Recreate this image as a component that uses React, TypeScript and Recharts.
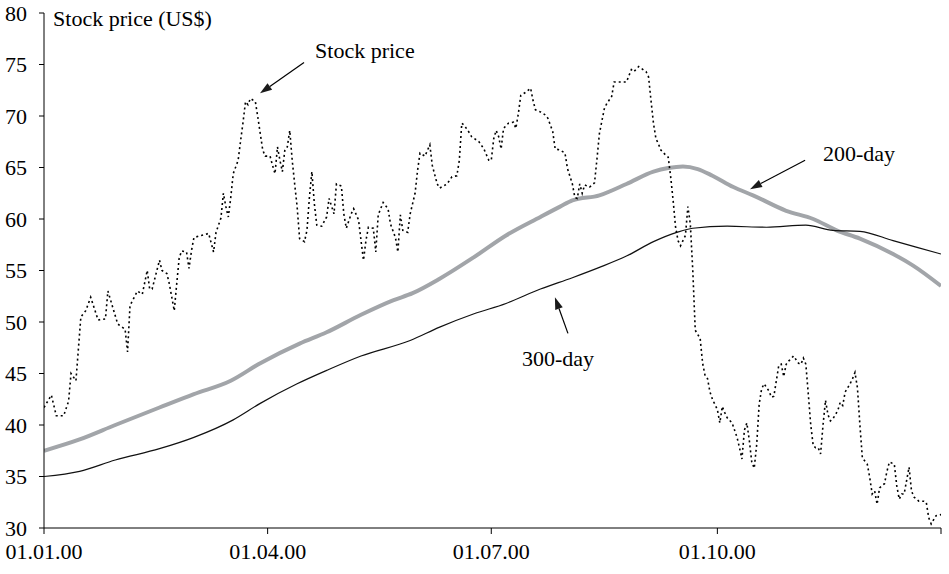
import { LineChart, Line, XAxis, YAxis, ReferenceLine, ReferenceDot } from "recharts";

const FONT = '"Liberation Serif", "Times New Roman", Times, serif';

// days counted from 01.01.00
const xTicks = [0, 91, 182, 274, 365];
const xTickLabels = ["01.01.00", "01.04.00", "01.07.00", "01.10.00", ""];
const yTicks = [30, 35, 40, 45, 50, 55, 60, 65, 70, 75, 80];

// [day, US$]
const stockPrice: [number, number][] = [
  [0, 41.7], [3, 42.9], [5, 40.9], [8, 40.9], [10, 42.3], [11, 45.0], [13, 44.3], [15, 50.5], [17, 51.1], [19, 52.4],
  [22, 50.2], [25, 50.3], [26, 53.0], [28, 51.4], [30, 49.8], [33, 49.3], [34, 47.1], [35, 51.6], [38, 53.0], [40, 52.7],
  [42, 55.0], [43, 53.2], [44, 53.2], [47, 56.0], [48, 55.0], [50, 54.7], [51, 53.7], [53, 51.1], [54, 53.7], [55, 56.2],
  [56, 56.9], [58, 56.8], [59, 55.2], [60, 56.9], [61, 58.2], [64, 58.4], [67, 58.6], [69, 56.8], [70, 58.7], [72, 60.1],
  [73, 62.5], [74, 61.2], [75, 60.2], [76, 62.1], [77, 64.4], [79, 65.7], [80, 67.6], [81, 69.4], [82, 71.4], [83, 71.1],
  [84, 71.7], [86, 71.4], [87, 69.9], [88, 68.3], [89, 66.7], [90, 66.1], [92, 66.1], [93, 65.2], [94, 64.4], [95, 67.0],
  [96, 65.7], [97, 64.6], [98, 66.7], [99, 67.0], [100, 68.6], [101, 65.7], [102, 63.4], [103, 61.2], [104, 58.1], [106, 57.8],
  [107, 58.9], [108, 62.1], [109, 64.6], [110, 61.5], [111, 59.4], [113, 59.3], [115, 60.2], [116, 62.0], [118, 60.5], [119, 63.4],
  [121, 63.2], [122, 60.5], [123, 59.1], [125, 60.5], [126, 61.0], [128, 59.9], [129, 57.9], [130, 56.0], [131, 57.9], [132, 59.2],
  [134, 59.1], [135, 56.8], [136, 60.4], [138, 61.6], [140, 61.0], [141, 59.5], [143, 58.2], [144, 56.8], [145, 60.4], [146, 58.9],
  [148, 58.7], [149, 60.5], [151, 62.5], [152, 64.7], [153, 66.4], [155, 66.1], [157, 67.2], [158, 65.2], [160, 63.4], [161, 63.0],
  [164, 63.4], [166, 64.1], [168, 64.2], [169, 65.7], [170, 69.3], [171, 69.1], [173, 68.4], [174, 68.0], [177, 67.5], [179, 66.8],
  [181, 65.7], [182, 65.7], [183, 67.8], [184, 68.6], [185, 68.0], [186, 66.8], [187, 68.8], [189, 69.3], [191, 69.4], [192, 68.8],
  [193, 70.2], [194, 72.0], [196, 72.3], [198, 72.7], [199, 71.5], [200, 70.6], [202, 70.4], [204, 70.1], [205, 69.8], [207, 68.5],
  [208, 66.8], [210, 66.7], [212, 66.4], [213, 64.9], [215, 63.4], [216, 62.1], [217, 62.0], [218, 63.4], [219, 62.5], [220, 63.3],
  [222, 63.1], [224, 63.5], [225, 65.8], [226, 68.3], [228, 70.7], [229, 71.2], [231, 71.9], [232, 73.3], [234, 73.3], [237, 73.3],
  [239, 74.5], [240, 74.3], [242, 74.8], [245, 74.3], [246, 73.8], [247, 71.5], [248, 69.3], [249, 67.8], [250, 67.3], [251, 66.7],
  [253, 66.2], [254, 66.0], [255, 64.1], [256, 61.8], [257, 59.2], [258, 57.9], [259, 57.4], [261, 58.4], [262, 61.2], [263, 59.5],
  [264, 55.0], [265, 49.2], [267, 48.4], [268, 46.0], [269, 44.8], [270, 44.5], [271, 43.2], [272, 42.5], [274, 41.5], [275, 40.2],
  [276, 41.8], [277, 41.2], [278, 40.7], [280, 40.2], [282, 38.8], [283, 37.8], [284, 36.7], [285, 39.5], [286, 40.2], [287, 38.5],
  [288, 36.4], [289, 35.8], [290, 38.1], [291, 42.0], [292, 43.5], [293, 44.0], [295, 43.3], [296, 42.7], [297, 42.8], [298, 44.3],
  [299, 45.8], [300, 45.9], [301, 44.7], [302, 45.9], [303, 46.2], [305, 46.7], [307, 46.0], [308, 45.9], [309, 46.5], [310, 45.9],
  [311, 43.0], [312, 40.0], [313, 38.0], [314, 37.8], [315, 37.8], [316, 37.2], [317, 40.0], [318, 42.4], [319, 41.0], [320, 40.4],
  [321, 40.6], [323, 41.4], [324, 42.2], [325, 41.9], [326, 43.2], [328, 44.0], [329, 44.5], [330, 45.1], [331, 43.6], [332, 40.0],
  [333, 36.8], [335, 36.2], [336, 34.9], [337, 33.3], [338, 33.6], [339, 32.3], [340, 33.9], [342, 34.3], [343, 35.5], [344, 36.4],
  [346, 36.2], [347, 34.1], [348, 32.8], [349, 33.3], [350, 33.3], [351, 34.6], [352, 35.9], [353, 33.6], [354, 33.0], [356, 32.6],
  [358, 32.6], [359, 32.5], [360, 31.0], [361, 30.4], [363, 31.2], [365, 31.3],
];

const ma200: [number, number][] = [
  [0, 37.5], [14.5, 38.6], [29, 40.0], [47, 41.7], [61, 43.0], [76, 44.3], [88, 46.0], [104, 47.9], [115, 49.0],
  [129, 50.7], [142, 52.1], [150, 52.8], [161, 54.2], [175, 56.3], [188, 58.4], [202, 60.2], [210, 61.2], [215, 61.8],
  [226, 62.3], [237, 63.4], [248, 64.6], [254, 64.95], [260, 65.1], [266, 64.85], [272, 64.2], [280.5, 63.1], [288.5, 62.3],
  [302, 60.8], [313, 60.0], [322.5, 58.9], [332, 58.1], [345.5, 56.6], [353.5, 55.5], [365, 53.5],
];

const ma300: [number, number][] = [
  [0, 35.0], [14.5, 35.5], [29, 36.6], [47, 37.7], [61, 38.8], [77, 40.5], [88, 42.1], [103, 44.0], [115, 45.3],
  [129, 46.7], [149, 48.2], [161, 49.5], [175, 50.8], [188, 51.8], [202, 53.2], [215, 54.3], [226, 55.3], [237, 56.4],
  [248, 57.8], [257.5, 58.7], [264, 59.1], [278, 59.3], [294, 59.2], [310, 59.4], [321, 58.9], [332, 58.8],
  [345.5, 57.9], [365, 56.6],
];

// annotation text anchors and arrows, in data units
const notes = [
  { text: "Stock price", day: 110.3, value: 76.4 },
  { text: "200-day", day: 317, value: 66.4 },
  { text: "300-day", day: 194.5, value: 46.5 },
  { text: "Stock price (US$)", day: 3.7, value: 79.5 },
];
const arrows = [
  { from: [105.8, 75.2], to: [87.9, 72.2] },
  { from: [309.7, 65.7], to: [287.3, 62.9] },
  { from: [213.2, 48.9], to: [207.9, 52.4] },
];

const toRows = (pairs: [number, number][]) => pairs.map(([day, value]) => ({ day, value }));

const Arrow = (props: any) => {
  const { x1, y1, x2, y2 } = props;
  const a = Math.atan2(y2 - y1, x2 - x1);
  const len = 12;
  const half = 4;
  const bx = x2 - len * Math.cos(a);
  const by = y2 - len * Math.sin(a);
  const px = -Math.sin(a) * half;
  const py = Math.cos(a) * half;
  return (
    <g>
      <line x1={x1} y1={y1} x2={bx} y2={by} stroke="#000" strokeWidth={1.2} />
      <polygon points={`${x2},${y2} ${bx + px},${by + py} ${bx - px},${by - py}`} fill="#1a1a1a" />
    </g>
  );
};

const noteShape = (text: string) => (props: any) => (
  <text x={props.cx} y={props.cy} dy="0.35em" fontFamily={FONT} fontSize={22} fill="#000">
    {text}
  </text>
);

const tickStyle = { fontFamily: FONT, fontSize: 22, fill: "#000" };

export default function App() {
  return (
    <div style={{ position: "absolute", left: 0, top: 0, background: "#fff", fontFamily: FONT }}>
      <style>{`.recharts-cartesian-axis-tick-value, .recharts-text { font-family: ${FONT}; }`}</style>
      <LineChart width={949} height={574} margin={{ top: 13, right: 8, bottom: 0, left: 0 }} style={{ fontFamily: FONT }}>
        <XAxis
          type="number"
          dataKey="day"
          domain={[0, 365]}
          ticks={xTicks}
          interval={0}
          tickFormatter={(v: number) => xTickLabels[xTicks.indexOf(v)] ?? ""}
          height={46}
          tickSize={6}
          tickMargin={9}
          axisLine={{ stroke: "#000", strokeWidth: 1 }}
          tickLine={{ stroke: "#000", strokeWidth: 1 }}
          tick={tickStyle}
          allowDataOverflow
        />
        <YAxis
          type="number"
          domain={[30, 80]}
          ticks={yTicks}
          interval={0}
          width={44}
          tickSize={5}
          tickMargin={12}
          axisLine={{ stroke: "#000", strokeWidth: 1 }}
          tickLine={{ stroke: "#000", strokeWidth: 1 }}
          tick={tickStyle}
          allowDataOverflow
        />
        <Line
          data={toRows(ma200)}
          dataKey="value"
          type="monotone"
          stroke="#a2a5a9"
          strokeWidth={4}
          dot={false}
          activeDot={false}
          isAnimationActive={false}
        />
        <Line
          data={toRows(ma300)}
          dataKey="value"
          type="monotone"
          stroke="#111"
          strokeWidth={1.2}
          dot={false}
          activeDot={false}
          isAnimationActive={false}
        />
        <Line
          data={toRows(stockPrice)}
          dataKey="value"
          type="linear"
          stroke="#000"
          strokeWidth={1.6}
          strokeDasharray="2 3"
          dot={false}
          activeDot={false}
          isAnimationActive={false}
        />
        {arrows.map((a, i) => (
          <ReferenceLine
            key={"arrow" + i}
            segment={[{ x: a.from[0], y: a.from[1] }, { x: a.to[0], y: a.to[1] }]}
            shape={Arrow}
            ifOverflow="visible"
          />
        ))}
        {notes.map((n) => (
          <ReferenceDot key={n.text} x={n.day} y={n.value} r={0} shape={noteShape(n.text)} ifOverflow="visible" />
        ))}
      </LineChart>
    </div>
  );
}
